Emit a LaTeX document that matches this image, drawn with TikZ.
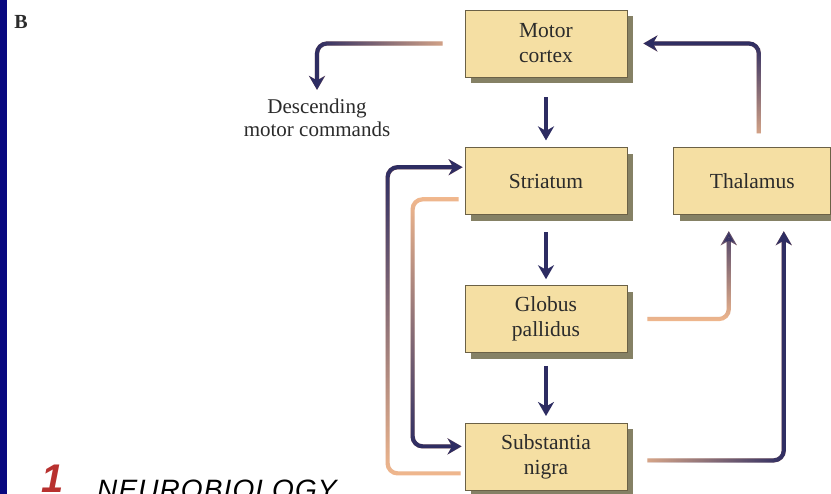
\documentclass[tikz,border=0pt]{standalone}
\usepackage{fontspec}
\setmainfont{Liberation Serif}
\setsansfont{Liberation Sans}
\usetikzlibrary{arrows.meta,positioning,shadows,fadings}
\definecolor{ink}{HTML}{2B2B2B}
\definecolor{navy}{HTML}{2D2C62}
\definecolor{peach}{HTML}{F1B88E}
\definecolor{boxfill}{HTML}{F5DFA3}
\definecolor{boxline}{HTML}{6B6146}
\definecolor{boxshade}{HTML}{67623F}
\definecolor{slide}{HTML}{08087F}
\definecolor{chapred}{HTML}{B8312F}
\tikzfading[name=tonorth, top color=transparent!0, bottom color=transparent!100]
\tikzfading[name=tosouth, top color=transparent!100, bottom color=transparent!0]
\tikzfading[name=towest, left color=transparent!0, right color=transparent!100]
\tikzfading[name=toeast, left color=transparent!100, right color=transparent!0]
\tikzset{
  region/.style={
    draw=boxline, line width=0.8pt, fill=boxfill,
    minimum width=162pt, minimum height=67pt, inner sep=0pt,
    align=center, font=\fontsize{21.5}{25}\selectfont, text=ink,
    drop shadow={shadow xshift=6pt, shadow yshift=-6pt, fill=boxshade, opacity=0.8}},
  conn/.style={-{Stealth[length=14pt,width=16pt,inset=4.5pt]}, line width=4.2pt,
    rounded corners=10pt},
  lbl/.style={font=\fontsize{21}{23}\selectfont, text=ink, align=center, inner sep=0pt},
}
% light where it leaves, dark at the head
\newcommand{\fadeflow}[3][]{%
  \draw[conn, draw=peach, #1] #3;
  \draw[conn, draw=navy, path fading=#2, #1] #3;}

\begin{document}
\begin{tikzpicture}

\useasboundingbox (0,0) rectangle (831pt,-494pt);
\clip (0,0) rectangle (831pt,-494pt);
\fill[white] (0,0) rectangle (831pt,-494pt);
\fill[slide] (0,0) rectangle (7pt,-494pt);

\node[font=\bfseries\fontsize{20}{20}\selectfont, text=ink, inner sep=0pt] (panel) at (21pt,-21.5pt) {B};

% =====================================================================
\node[region] (cortex) at (546pt,-43.5pt) {Motor\\cortex};
\node[region, below=70pt of cortex] (str)  {Striatum};
\node[region, below=70pt of str]    (glob) {Globus\\pallidus};
\node[region, below=70pt of glob]   (sub)  {Substantia\\nigra};
\node[region, right=46pt of str, minimum width=157pt] (thal) {Thalamus};

\node[lbl] (desc) at (317pt,-118pt) {Descending\\motor commands};

% the straight chain down the middle
\draw[conn, draw=navy, shorten <=20pt, shorten >=7pt] (cortex) -- (str);
\draw[conn, draw=navy, shorten <=17pt, shorten >=6pt] (str) -- (glob);
\draw[conn, draw=navy, shorten <=13pt, shorten >=7pt] (glob) -- (sub);

% the bent ones
\fadeflow[shorten <=22pt, shorten >=9pt]{towest}{(cortex.west) -| (desc.north)}
\fadeflow[shorten <=14pt, shorten >=16pt]{tonorth}{([xshift=6.5pt]thal.north) |- (cortex.east)}
\fadeflow[shorten <=20pt, shorten >=16pt]{tonorth}{(glob.east) -| ([xshift=-23.5pt]thal.south)}
\fadeflow[shorten <=20pt, shorten >=16pt]{toeast}{([yshift=-3.5pt]sub.east) -| ([xshift=31.5pt]thal.south)}
\fadeflow[shorten <=6pt, shorten >=3pt]{tosouth}{([yshift=-18pt]str.west) -- ++(-52pt,0) |- ([yshift=10.5pt]sub.west)}
\fadeflow[shorten <=4pt, shorten >=2pt]{tonorth}{([yshift=-16.5pt]sub.west) -- ++(-77pt,0) |- ([yshift=14pt]str.west)}

% slide footer, cut by the edge
\node[anchor=north west, inner sep=0pt, text=chapred,
      font=\sffamily\bfseries\itshape\fontsize{40}{40}\selectfont] (chap) at (41pt,-465pt) {1};
\node[anchor=north west, inner sep=0pt, text=black,
      font=\sffamily\itshape\fontsize{28}{28}\selectfont\addfontfeature{LetterSpace=4}] (subject) at (97pt,-480pt) {NEUROBIOLOGY};

\end{tikzpicture}
\end{document}
